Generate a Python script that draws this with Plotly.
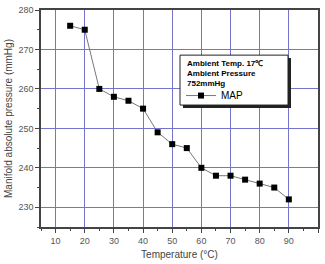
import plotly.graph_objects as go

temperature = [15, 20, 25, 30, 35, 40, 45, 50, 55, 60, 65, 70, 75, 80, 85, 90]
map_values = [276, 275, 260, 258, 257, 255, 249, 246, 245, 240, 238, 238, 237, 236, 235, 232]
x_ticks = [10, 20, 30, 40, 50, 60, 70, 80, 90, 100]
y_ticks = [230, 240, 250, 260, 270, 280]
legend_note = ["Ambient Temp. 17℃", "Ambient Pressure", "752mmHg"]

fig = go.Figure()
fig.add_trace(go.Scatter(
    x=temperature, y=map_values, mode="lines+markers", name="MAP",
    line=dict(color="#777777", width=1),
    marker=dict(symbol="square", size=6, color="black"),
))

grid = "#7474cc"
font_family = "Liberation Sans, Arial"
axis_common = dict(
    showline=True, linecolor="#444444", linewidth=1.5, mirror=True,
    showgrid=True, gridcolor=grid, gridwidth=1,
    ticks="outside", ticklen=4, tickcolor="#444444",
    tickfont=dict(family=font_family, size=9, color="#555555"),
    zeroline=False,
)
fig.update_xaxes(range=[5, 100], tickvals=x_ticks,
                 minor=dict(dtick=5, tick0=5, ticks="outside", ticklen=2, tickcolor="#444444", showgrid=False),
                 title=dict(text="Temperature (°C)", standoff=6,
                            font=dict(family=font_family, size=10, color="#444444")),
                 **axis_common)
fig.update_yaxes(range=[225, 280], tickvals=y_ticks,
                 minor=dict(dtick=5, tick0=225, ticks="outside", ticklen=2, tickcolor="#444444", showgrid=False),
                 title=dict(text="Manifold absolute pressure (mmHg)", standoff=4,
                            font=dict(family=font_family, size=10, color="#444444")),
                 **axis_common)

# legend box with shadow (pixel box approx x 180-288, y 52-104 within plot 41-318 / 5-231)
def px_x(p):
    return (p - 41) / 277.0

def px_y(p):
    return 1 - (p - 5) / 226.0

fig.add_shape(type="rect", xref="paper", yref="paper",
              x0=px_x(183), x1=px_x(291), y0=px_y(107), y1=px_y(55),
              fillcolor="#222222", line=dict(width=0), layer="above")
fig.add_shape(type="rect", xref="paper", yref="paper",
              x0=px_x(180), x1=px_x(288), y0=px_y(104), y1=px_y(52),
              fillcolor="white", line=dict(color="#222222", width=1), layer="above")
for i, line in enumerate(legend_note):
    fig.add_annotation(xref="paper", yref="paper", x=px_x(186), y=px_y(60.5 + 10.5 * i),
                       xanchor="left", yanchor="middle", align="left", showarrow=False,
                       borderpad=0,
                       text="<b>" + line + "</b>",
                       font=dict(family=font_family, size=8, color="black"))

fig.update_layout(
    width=325, height=264,
    margin=dict(l=41, r=7, t=5, b=33),
    plot_bgcolor="white", paper_bgcolor="white",
    showlegend=True,
    legend=dict(
        x=px_x(181), y=px_y(79), xanchor="left", yanchor="top",
        bgcolor="rgba(0,0,0,0)", borderwidth=0,
        font=dict(family=font_family, size=10, color="black"),
        itemwidth=30,
    ),
)

fig.write_html("out.html")
